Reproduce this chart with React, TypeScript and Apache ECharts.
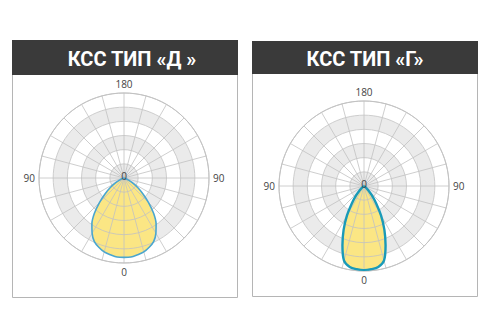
import React, { useEffect, useRef } from 'react';
import * as echarts from 'echarts';

// Angles from nadir (degrees)
const thetas = [0, 5, 10, 15, 20, 25, 30, 35, 40, 45, 50, 55, 60, 65, 70, 75, 80, 85, 90];
// Relative intensity, type "Д"
const typeD = [112, 112, 110, 108, 104, 99, 90, 79, 65, 49, 35, 24, 14, 7, 3, 1, 0, 0, 0];
// Relative intensity, type "Г"
const typeG = [119, 118, 116, 109, 89, 68, 48, 30, 17, 8.5, 4, 1.5, 0, 0, 0, 0, 0, 0, 0];
const titles = ['КСС ТИП «Д »', 'КСС ТИП «Г»'];
const centerLabel = '0';

const GRID = '#c2c2c2';
const BAND = '#ebebeb';
const FILL = '#fbe684';
const LINE_COLORS = ['#4aa6cf', '#1a9ab8'];
const LINE_WIDTHS = [1.6, 2.4];

function toPolar(vals: number[]) {
  const pts: number[][] = [];
  for (let i = vals.length - 1; i >= 0; i--) pts.push([vals[i], -thetas[i]]);
  for (let i = 1; i < vals.length; i++) pts.push([vals[i], thetas[i]]);
  return pts;
}

const panels = [
  { box: [12, 40, 226, 258], header: 35, center: [124, 178], titleX: 132, data: typeD },
  { box: [252, 41, 226, 256], header: 33, center: [364, 186], titleX: 365, data: typeG },
];

export default function App() {
  const ref = useRef<HTMLDivElement>(null);
  useEffect(() => {
    if (!ref.current) return;
    const chart = echarts.init(ref.current, undefined, { renderer: 'svg' });
    const polar: any[] = [];
    const angleAxis: any[] = [];
    const radiusAxis: any[] = [];
    const series: any[] = [];
    const graphic: any[] = [];
    panels.forEach((p, k) => {
      const [bx, by, bw, bh] = p.box;
      graphic.push({
        type: 'rect', shape: { x: bx + 0.5, y: by + 0.5, width: bw - 1, height: bh - 1 },
        style: { fill: 'none', stroke: '#b5b5b5', lineWidth: 1 },
      });
      graphic.push({
        type: 'rect', shape: { x: bx, y: by, width: bw, height: p.header },
        style: { fill: '#3a3a3a' },
      });
      graphic.push({
        type: 'text', x: p.titleX, y: by + p.header / 2 + 1,
        style: {
          text: titles[k], fill: '#ffffff', font: 'bold 20px Roboto',
          textAlign: 'center', textVerticalAlign: 'middle',
        },
      });
      graphic.push({
        type: 'text', x: p.center[0], y: p.center[1] - 2, z: 10,
        style: {
          text: centerLabel, fill: '#444', font: '10px "Open Sans"',
          textAlign: 'center', textVerticalAlign: 'middle',
        },
      });
      for (let layer = 0; layer < 2; layer++) {
        const idx = k * 2 + layer;
        const lines = layer === 1;
        polar.push({ center: p.center, radius: 85 });
        angleAxis.push({
          polarIndex: idx, type: 'value', min: -180, max: 180, interval: 15,
          startAngle: 90, clockwise: true, z: lines ? 3 : 0,
          axisLine: { show: lines, lineStyle: { color: GRID, width: 1 } },
          axisTick: { show: false },
          axisLabel: {
            show: lines, margin: 4, color: '#444', fontSize: 10, fontFamily: 'Open Sans',
            formatter: (v: number) => {
              if (v === 180) return '';
              const a = Math.abs(v);
              return a % 90 === 0 ? String(a) : '';
            },
          },
          splitLine: { show: lines, lineStyle: { color: GRID, width: 0.8 } },
        });
        radiusAxis.push({
          polarIndex: idx, type: 'value', min: 0, max: 120, interval: 20, z: lines ? 3 : 0,
          axisLine: { show: false }, axisTick: { show: false }, axisLabel: { show: false },
          splitLine: { show: lines, lineStyle: { color: GRID, width: 0.8 } },
          splitArea: { show: !lines, areaStyle: { color: [BAND, '#ffffff'] } },
        });
      }
      const pts = toPolar(p.data);
      series.push({
        type: 'line', coordinateSystem: 'polar', polarIndex: k * 2, data: pts,
        smooth: 0.3, symbol: 'none', z: 1,
        lineStyle: { width: 0 }, areaStyle: { color: FILL, opacity: 1 },
      });
      series.push({
        type: 'line', coordinateSystem: 'polar', polarIndex: k * 2 + 1, data: pts,
        smooth: 0.3, symbol: 'none', z: 5,
        lineStyle: { width: LINE_WIDTHS[k], color: LINE_COLORS[k] },
      });
    });
    chart.setOption({
      animation: false,
      backgroundColor: '#ffffff',
      polar, angleAxis, radiusAxis, series, graphic,
    });
    return () => chart.dispose();
  }, []);
  return <div ref={ref} style={{ position: 'fixed', left: 0, top: 0, width: 490, height: 327 }} />;
}
